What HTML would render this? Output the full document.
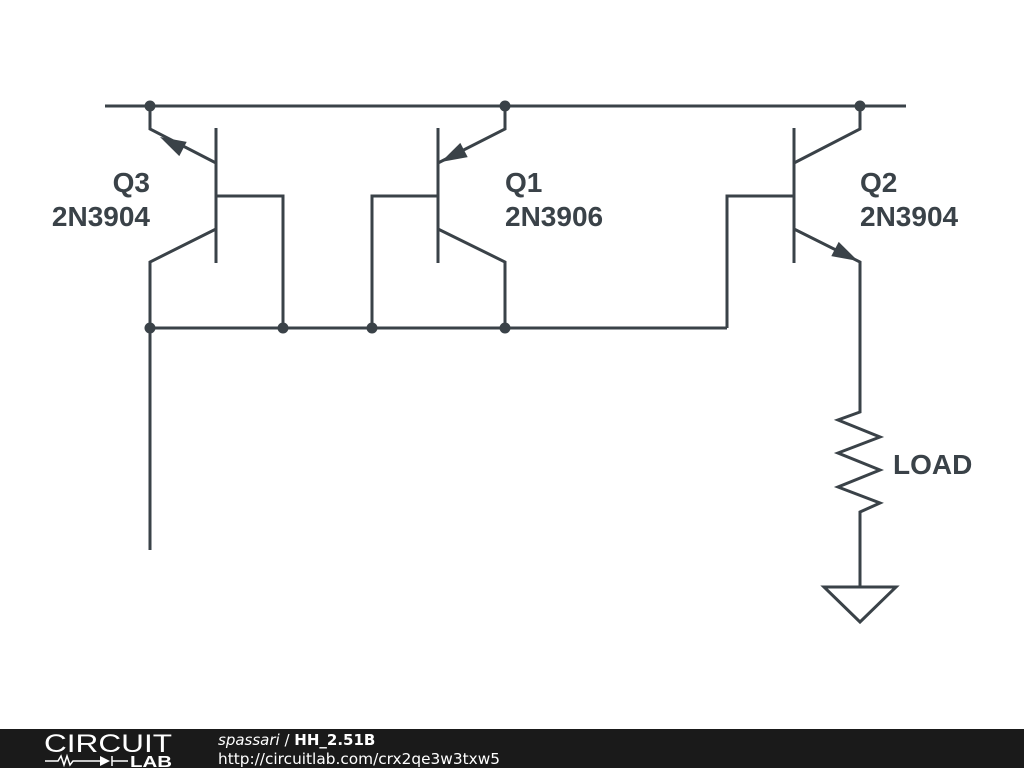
<!DOCTYPE html>
<html><head><style>
body{margin:0;width:1024px;height:768px;background:#fff;overflow:hidden;position:relative;font-family:"Liberation Sans",sans-serif}
svg{position:absolute;left:0;top:0}
</style></head><body>
<svg width="1024" height="768" viewBox="0 0 1024 768">
<g stroke="#3a4248" stroke-width="3" fill="none" stroke-linejoin="miter">
<line x1="105" y1="106" x2="906" y2="106"/>
<line x1="150" y1="328" x2="727" y2="328"/>
<line x1="216" y1="128" x2="216" y2="263"/>
<polyline points="150,106 150,129 216,163"/>
<polyline points="216,229 150,262 150,550"/>
<polyline points="216,196 283,196 283,328"/>
<line x1="438" y1="128" x2="438" y2="263"/>
<polyline points="505,106 505,129 438,163"/>
<polyline points="438,229 505,262 505,328"/>
<polyline points="438,196 372,196 372,328"/>
<line x1="794" y1="128" x2="794" y2="263"/>
<polyline points="860,106 860,129 794,163"/>
<polyline points="794,229 860,262 860,412 838,420 880,437 838,453 880,470 838,487 880,503 860,512 860,587"/>
<polyline points="727,328 727,196 794,196"/>
<polygon points="824,587 896,587 860,622"/>
</g>
<g fill="#3a4248">
<polygon points="160,137 186.7,141.9 179.3,156.1"/>
<polygon points="441,162 467.7,157.1 460.3,142.9"/>
<polygon points="858,261 838.7,241.9 831.3,256.1"/>
<circle cx="150" cy="106" r="5.5"/><circle cx="505" cy="106" r="5.5"/><circle cx="860" cy="106" r="5.5"/>
<circle cx="150" cy="328" r="5.5"/><circle cx="283" cy="328" r="5.5"/><circle cx="372" cy="328" r="5.5"/><circle cx="505" cy="328" r="5.5"/>
</g>
<g fill="#3a4248" font-family="Liberation Sans, sans-serif" font-weight="bold" font-size="28">
<text x="150" y="192" text-anchor="end">Q3</text>
<text x="150" y="226" text-anchor="end">2N3904</text>
<text x="505" y="192">Q1</text>
<text x="505" y="226">2N3906</text>
<text x="860" y="192">Q2</text>
<text x="860" y="226">2N3904</text>
<text x="893" y="474">LOAD</text>
</g>
<rect x="0" y="729" width="1024" height="39" fill="#1a1a1a"/>
<text x="44" y="752" fill="#fff" font-family="Liberation Sans, sans-serif" font-size="25" textLength="128" lengthAdjust="spacingAndGlyphs">CIRCUIT</text>
<g stroke="#fff" stroke-width="1.5" fill="none"><polyline points="45,761 58,761 61,756 64,765 67,756 70,765 73,761 100,761"/><line x1="112" y1="756" x2="112" y2="766"/><line x1="112" y1="761" x2="128" y2="761"/></g>
<polygon points="100,756 100,766 110,761" fill="#fff"/>
<text x="130" y="767" fill="#fff" font-family="Liberation Sans, sans-serif" font-weight="bold" font-size="16" textLength="42" lengthAdjust="spacingAndGlyphs">LAB</text>
<text x="218" y="745" fill="#fff" font-family="DejaVu Sans, sans-serif" font-size="15"><tspan font-style="italic">spassari</tspan> / <tspan font-weight="bold">HH_2.51B</tspan></text>
<text x="218" y="764" fill="#fff" font-family="DejaVu Sans, sans-serif" font-size="15" textLength="282" lengthAdjust="spacingAndGlyphs">http://circuitlab.com/crx2qe3w3txw5</text>
</svg>
</body></html>
